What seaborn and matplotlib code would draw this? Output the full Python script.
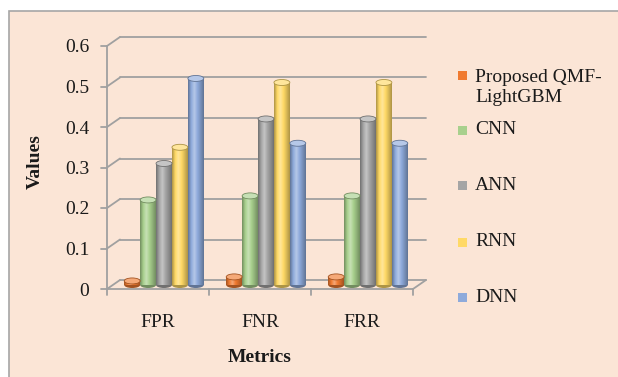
import numpy as np
import pandas as pd
import seaborn as sns
import matplotlib
matplotlib.use("Agg")
import matplotlib.pyplot as plt
from matplotlib.patches import Rectangle, Ellipse
from matplotlib.colors import LinearSegmentedColormap, to_rgb
from matplotlib.transforms import ScaledTranslation

# ---- data -------------------------------------------------------------
metrics = ["FPR", "FNR", "FRR"]
models = ["Proposed QMF-LightGBM", "CNN", "ANN", "RNN", "DNN"]
legend_labels = ["Proposed QMF-\nLightGBM", "CNN", "ANN", "RNN", "DNN"]
qmf_lightgbm = [0.01, 0.02, 0.02]
cnn = [0.21, 0.22, 0.22]
ann = [0.30, 0.41, 0.41]
rnn = [0.34, 0.50, 0.50]
dnn = [0.51, 0.35, 0.35]
y_ticks = [0, 0.1, 0.2, 0.3, 0.4, 0.5, 0.6]
y_tick_labels = ["0", "0.1", "0.2", "0.3", "0.4", "0.5", "0.6"]
colors = ["#F07A30", "#A8D08D", "#A5A5A5", "#FFD966", "#8EAADB"]

series = [qmf_lightgbm, cnn, ann, rnn, dnn]
df = pd.DataFrame(
    [(m, metrics[i], vals[i]) for m, vals in zip(models, series) for i in range(len(metrics))],
    columns=["Model", "Metric", "Value"],
)

# ---- figure -----------------------------------------------------------
sns.set_theme(style="white")
plt.rcParams["font.family"] = ["Liberation Serif", "DejaVu Serif"]

W, H, DPI = 618, 377, 100
fig = plt.figure(figsize=(W / DPI, H / DPI), dpi=DPI, facecolor="white")
BG = "#FBE5D6"
fig.patches.append(Rectangle((9 / W, -0.01), 1.0, (H - 11) / H + 0.01,
                             transform=fig.transFigure, facecolor=BG,
                             edgecolor="#A6A6A6", linewidth=1.2, zorder=-5))

# bar plane (middle depth of the 3-D box)
ax_l, ax_r, ax_b, ax_t = 113, 419, 285, 42
ax = fig.add_axes([ax_l / W, (H - ax_b) / H, (ax_r - ax_l) / W, (ax_b - ax_t) / H])
ax.set_facecolor("none")

sns.barplot(data=df, x="Metric", y="Value", hue="Model", order=metrics,
            hue_order=models, palette=colors, width=0.78, saturation=1,
            edgecolor="none", legend=False, ax=ax, zorder=3)

XL, YL = (-0.5, 2.5), (0, 0.6)
ax.set_xlim(*XL)
ax.set_ylim(*YL)

# pixel -> data conversion for the depth offsets
sx = (XL[1] - XL[0]) / (ax_r - ax_l)
sy = (YL[1] - YL[0]) / (ax_b - ax_t)
front = (-6 * sx, -4 * sy)
back = (7 * sx, 5 * sy)
grid_c = "#A0A0A0"
lw = 1.3

# back wall gridlines and diagonal edges
for v in y_ticks:
    ax.plot([XL[0] + back[0], XL[1] + back[0]], [v + back[1]] * 2,
            color=grid_c, lw=lw, clip_on=False, zorder=1)
    ax.plot([XL[0] + front[0], XL[0] + back[0]], [v + front[1], v + back[1]],
            color=grid_c, lw=lw, clip_on=False, zorder=1)
    # front tick marks
    ax.plot([XL[0] + front[0] - 6 * sx, XL[0] + front[0]], [v + front[1]] * 2,
            color=grid_c, lw=lw, clip_on=False, zorder=1)
# front vertical axis
ax.plot([XL[0] + front[0]] * 2, [YL[0] + front[1], YL[1] + front[1]],
        color=grid_c, lw=lw, clip_on=False, zorder=1)
# floor front edge and right diagonal
ax.plot([XL[0] + front[0], XL[1] + front[0]], [front[1]] * 2,
        color=grid_c, lw=lw, clip_on=False, zorder=2)
ax.plot([XL[1] + front[0], XL[1] + back[0]], [front[1], back[1]],
        color=grid_c, lw=lw, clip_on=False, zorder=2)
# category separators
for xb in np.arange(XL[0], XL[1] + 0.01, 1.0):
    ax.plot([xb + front[0]] * 2, [front[1], front[1] - 6 * sy],
            color=grid_c, lw=lw, clip_on=False, zorder=2)

# cylinder shading on every bar
ell_h = 6 * sy
for container, col in zip(ax.containers, colors):
    base = np.array(to_rgb(col))
    dark = base * 0.68
    light = base + (1 - base) * 0.35
    cmap = LinearSegmentedColormap.from_list(
        "cyl", [dark, base, light, base, base * 0.85, dark])
    for bar in container:
        x0, w, h = bar.get_x(), bar.get_width(), bar.get_height()
        grad = np.linspace(0, 1, 64).reshape(1, -1)
        im = ax.imshow(grad, extent=[x0, x0 + w, 0, h], aspect="auto",
                       cmap=cmap, zorder=4, interpolation="bilinear")
        im.set_clip_path(bar)
        ax.add_patch(Ellipse((x0 + w / 2, 0), w, ell_h, facecolor=dark,
                             edgecolor="none", zorder=3.5, clip_on=False))
        ax.add_patch(Ellipse((x0 + w / 2, h), w, ell_h, facecolor=light,
                             edgecolor=dark, lw=0.6, zorder=5, clip_on=False))
ax.set_xlim(*XL)
ax.set_ylim(*YL)
ax.set_aspect("auto")

# ticks and labels
for s in ax.spines.values():
    s.set_visible(False)
ax.set_yticks(y_ticks, y_tick_labels)
ax.set_xticks(range(len(metrics)), metrics)
ax.tick_params(axis="both", length=0, labelsize=14, colors="#1a1a1a")
ax.tick_params(axis="y", pad=17)
ax.tick_params(axis="x", pad=21)
for lab in ax.get_yticklabels():
    lab.set_transform(lab.get_transform() + ScaledTranslation(0, -4 / DPI, fig.dpi_scale_trans))
for lab in ax.get_xticklabels():
    lab.set_transform(lab.get_transform() + ScaledTranslation(-6 / DPI, 0, fig.dpi_scale_trans))
ax.grid(False)

ax.set_xlabel("")
ax.set_ylabel("")
fig.text(260 / W, 1 - 358 / H, "Metrics", ha="center", va="center",
         fontsize=14, fontweight="bold", color="#1a1a1a")
fig.text(35 / W, 1 - 162 / H, "Values", ha="center", va="center",
         rotation=90, fontsize=14, fontweight="bold", color="#1a1a1a")

# legend
leg_y = [87.5, 130, 185, 242, 297]
for lab, col, yc in zip(legend_labels, colors, leg_y):
    sq_y = 75 if "\n" in lab else yc
    fig.patches.append(Rectangle((458 / W, 1 - (sq_y + 4.5) / H), 9 / W, 9 / H,
                                 transform=fig.transFigure, facecolor=col,
                                 edgecolor="none", zorder=3))
    fig.text(475 / W, 1 - yc / H, lab, ha="left", va="center", fontsize=14,
             linespacing=1.2, color="#1a1a1a")

fig.savefig("out.png", dpi=DPI, facecolor=fig.get_facecolor())
